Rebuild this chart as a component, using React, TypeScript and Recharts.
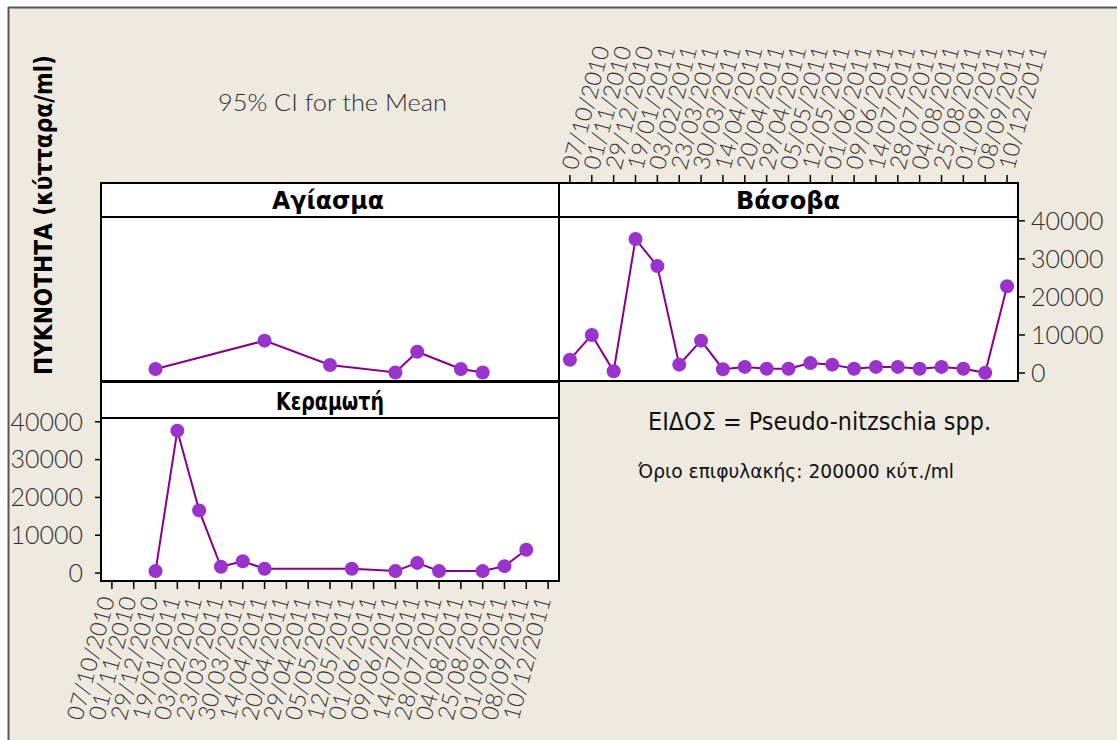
import React from 'react';
import { LineChart, Line, XAxis, YAxis } from 'recharts';

// ---------- data ----------
const dates = [
  '07/10/2010', '01/11/2010', '29/12/2010', '19/01/2011', '03/02/2011', '23/03/2011', '30/03/2011',
  '14/04/2011', '20/04/2011', '29/04/2011', '05/05/2011', '12/05/2011', '01/06/2011', '09/06/2011',
  '14/07/2011', '28/07/2011', '04/08/2011', '25/08/2011', '01/09/2011', '08/09/2011', '10/12/2011',
];
const agiasmaValues = [null, null, 1050, null, null, null, null, 8500, null, null, 2100, null, null, 150, 5600, null, 1050, 150, null, null, null];
const vasovaValues = [3500, 10000, 450, 35200, 28100, 2200, 8500, 1000, 1600, 1100, 1100, 2600, 2200, 1100, 1600, 1600, 1100, 1600, 1100, 50, 22800];
const keramotiValues = [null, null, 520, 37650, 16570, 1650, 3120, 1130, null, null, null, 1130, null, 520, 2690, 520, null, 520, 1820, 6160, null];
const yTicks = [0, 10000, 20000, 30000, 40000];
const yDomain = [-2100, 41000];
const panelTitles = ['Αγίασμα', 'Βάσοβα', 'Κεραμωτή'];
const chartTitle = '95% CI for the Mean';
const yAxisTitle = 'ΠΥΚΝΟΤΗΤΑ (κύτταρα/ml)';
const legendLine1 = 'ΕΙΔΟΣ = Pseudo-nitzschia spp.';
const legendLine2 = 'Όριο επιφυλακής: 200000 κύτ./ml';

const build = (vals: (number | null)[]) => dates.map((d, i) => ({ date: d, value: vals[i] }));
const agiasmaData = build(agiasmaValues);
const vasovaData = build(vasovaValues);
const keramotiData = build(keramotiValues);

// ---------- styles ----------
const lightFont = "Lato, 'Open Sans', 'DejaVu Sans', sans-serif";
const boldFont = "'DejaVu Sans', 'Noto Sans', sans-serif";
const labelColor = '#2e2e2e';
const lineColor = '#87008A';
const dotColor = '#9933CC';
const beige = '#EEEAE0';

const TopTick = (props: any) => {
  const { x, payload } = props;
  return (
    <g>
      <line x1={x} x2={x} y1={143} y2={135} stroke="#000" strokeWidth={1.5} />
      <text
        transform={`translate(${x + 7},131) rotate(-75)`}
        textAnchor="start"
        fontSize={23}
        fontFamily={lightFont}
        fontWeight={300}
        fill={labelColor}
      >
        {payload.value}
      </text>
    </g>
  );
};

const BottomTick = (props: any) => {
  const { x, payload } = props;
  return (
    <g>
      <line x1={x} x2={x} y1={183} y2={191} stroke="#000" strokeWidth={1.5} />
      <text
        transform={`translate(${x + 3},201) rotate(-75)`}
        textAnchor="end"
        fontSize={23}
        fontFamily={lightFont}
        fontWeight={300}
        fill={labelColor}
      >
        {payload.value}
      </text>
    </g>
  );
};

const yTickStyle = { fontSize: 25, fill: labelColor, fontFamily: lightFont, fontWeight: 300 };

const series = (
  <Line
    type="linear"
    dataKey="value"
    stroke={lineColor}
    strokeWidth={2}
    dot={{ r: 7, fill: dotColor, stroke: dotColor, strokeWidth: 0 }}
    activeDot={false}
    connectNulls
    isAnimationActive={false}
  />
);

export default function App() {
  return (
    <div style={{ position: 'absolute', left: 0, top: 0, width: 1117, height: 740, overflow: 'hidden', background: '#fff' }}>
      <svg width={1117} height={740} style={{ position: 'absolute', left: 0, top: 0 }}>
        <rect x={8} y={7} width={1120} height={740} fill={beige} />
        <line x1={8.5} y1={7} x2={8.5} y2={740} stroke="#555" strokeWidth={2} />
        <line x1={8} y1={7.5} x2={1117} y2={7.5} stroke="#555" strokeWidth={2} />

        <rect x={101} y={217} width={458} height={164} fill="#fff" stroke="#000" strokeWidth={2} />
        <rect x={101} y={183} width={458} height={34} fill="#fff" stroke="#000" strokeWidth={2} />
        <rect x={559} y={217} width={459} height={164} fill="#fff" stroke="#000" strokeWidth={2} />
        <rect x={559} y={183} width={459} height={34} fill="#fff" stroke="#000" strokeWidth={2} />
        <rect x={101} y={418} width={458} height={163} fill="#fff" stroke="#000" strokeWidth={2} />
        <rect x={101} y={382} width={458} height={36} fill="#fff" stroke="#000" strokeWidth={2} />

        <text x={328} y={209} textAnchor="middle" fontFamily={boldFont} fontWeight={700} fontSize={25} textLength={112} lengthAdjust="spacingAndGlyphs" fill="#000">{panelTitles[0]}</text>
        <text x={788} y={209} textAnchor="middle" fontFamily={boldFont} fontWeight={700} fontSize={25} textLength={104} lengthAdjust="spacingAndGlyphs" fill="#000">{panelTitles[1]}</text>
        <text x={330} y={410} textAnchor="middle" fontFamily={boldFont} fontWeight={700} fontSize={25} textLength={108} lengthAdjust="spacingAndGlyphs" fill="#000">{panelTitles[2]}</text>

        <text x={218} y={111} fontFamily={lightFont} fontWeight={300} fontSize={23} fill={labelColor} textLength={229} lengthAdjust="spacingAndGlyphs">{chartTitle}</text>

        <text transform="translate(52,215) rotate(-90)" textAnchor="middle" fontFamily={boldFont} fontWeight={700} fontSize={24} fill="#000" textLength={320} lengthAdjust="spacingAndGlyphs">{yAxisTitle}</text>

        <text x={648} y={430} fontFamily="'DejaVu Sans', sans-serif" fontSize={24} fill="#111" textLength={343} lengthAdjust="spacingAndGlyphs">{legendLine1}</text>
        <text x={638} y={478} fontFamily="'Liberation Sans Narrow', 'DejaVu Sans Condensed', 'DejaVu Sans', sans-serif" fontSize={20} fill="#111" textLength={316} lengthAdjust="spacingAndGlyphs">{legendLine2}</text>
      </svg>

      {/* Panel A: Αγίασμα */}
      <div style={{ position: 'absolute', left: 101, top: 217 }}>
        <LineChart width={458} height={164} data={agiasmaData} margin={{ top: 0, right: 0, bottom: 0, left: 0 }}>
          <XAxis dataKey="date" type="category" scale="band" hide interval={0} />
          <YAxis type="number" domain={yDomain} allowDataOverflow hide />
          {series}
        </LineChart>
      </div>

      {/* Panel B: Βάσοβα */}
      <div style={{ position: 'absolute', left: 540, top: 40 }}>
        <LineChart width={574} height={360} data={vasovaData} margin={{ top: 0, right: 0, bottom: 19, left: 19 }}>
          <XAxis
            dataKey="date"
            type="category"
            scale="band"
            orientation="top"
            height={177}
            interval={0}
            axisLine={false}
            tickLine={false}
            tick={(p: any) => <TopTick {...p} />}
          />
          <YAxis
            type="number"
            orientation="right"
            width={96}
            domain={yDomain}
            allowDataOverflow
            ticks={yTicks}
            interval={0}
            axisLine={false}
            tickSize={7}
            tickMargin={6}
            tickLine={{ stroke: '#000', strokeWidth: 1.5 }}
            tick={yTickStyle}
          />
          {series}
        </LineChart>
      </div>

      {/* Panel C: Κεραμωτή */}
      <div style={{ position: 'absolute', left: 0, top: 398 }}>
        <LineChart width={570} height={340} data={keramotiData} margin={{ top: 20, right: 11, bottom: 0, left: 0 }}>
          <XAxis
            dataKey="date"
            type="category"
            scale="band"
            orientation="bottom"
            height={157}
            interval={0}
            axisLine={false}
            tickLine={false}
            tick={(p: any) => <BottomTick {...p} />}
          />
          <YAxis
            type="number"
            orientation="left"
            width={101}
            domain={yDomain}
            allowDataOverflow
            ticks={yTicks}
            interval={0}
            axisLine={false}
            tickSize={6}
            tickMargin={12}
            tickLine={{ stroke: '#000', strokeWidth: 1.5 }}
            tick={yTickStyle}
          />
          {series}
        </LineChart>
      </div>
    </div>
  );
}
